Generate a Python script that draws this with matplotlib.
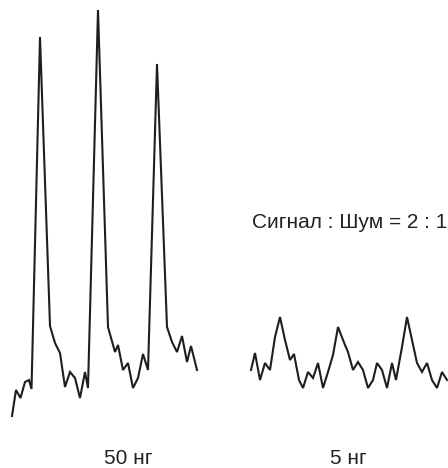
import matplotlib
matplotlib.use("Agg")
import matplotlib.pyplot as plt

# trace at 50 ng: time (a.u.) and detector response (a.u.)
t_50 = [12, 16, 20.5, 25, 29, 31.5, 40, 50, 55, 60, 65, 70, 75, 80, 85, 88,
        98, 108, 115, 118, 123, 128, 133, 138, 143, 148, 157, 167, 172, 177,
        182, 187, 191, 197]
s_50 = [4, 30, 22, 38, 40, 31, 383, 94, 77, 67, 33, 48, 42, 22, 48, 32,
        410, 93, 68, 75, 50, 57, 32, 42, 66, 50, 356, 93, 78, 68,
        84, 58, 74, 50]

# trace at 5 ng
t_5 = [251, 255, 260, 265, 270, 275, 280, 285, 290, 294, 299, 303, 308, 313,
       318, 323, 328, 333, 338, 345, 348, 353, 358, 363, 368, 373, 377, 382,
       387, 392, 396, 402, 407, 412, 417, 422, 427, 432, 437, 442, 447]
s_5 = [50, 67, 40, 57, 50, 83, 103, 80, 60, 66, 40, 32, 48, 42,
       57, 32, 48, 65, 93, 75, 68, 50, 58, 50, 32, 40, 57, 50,
       32, 57, 40, 73, 103, 80, 57, 48, 57, 40, 32, 48, 40]

labels = ["50 нг", "5 нг"]
snr_text = "Сигнал : Шум = 2 : 1"

plt.rcParams['font.family'] = ['Liberation Sans', 'DejaVu Sans']

fig = plt.figure(figsize=(4.48, 4.68), dpi=100)
ax = fig.add_axes([0, 0, 1, 1])
ax.plot(t_50, s_50, color="#1e1e1e", lw=1.5, solid_joinstyle="miter")
ax.plot(t_5, s_5, color="#1e1e1e", lw=1.5, solid_joinstyle="miter")
ax.set_xlim(0, 448)
ax.set_ylim(-48, 420)
ax.axis("off")

ax.text(252 / 448, 1 - 222 / 468, snr_text, transform=ax.transAxes,
        fontsize=15, color="#222222", ha="left", va="center")
ax.text(128 / 448, 1 - 459 / 468, labels[0], transform=ax.transAxes,
        fontsize=15, color="#222222", ha="center", va="center")
ax.text(348 / 448, 1 - 459 / 468, labels[1], transform=ax.transAxes,
        fontsize=15, color="#222222", ha="center", va="center")

fig.savefig("out.png", dpi=100)
